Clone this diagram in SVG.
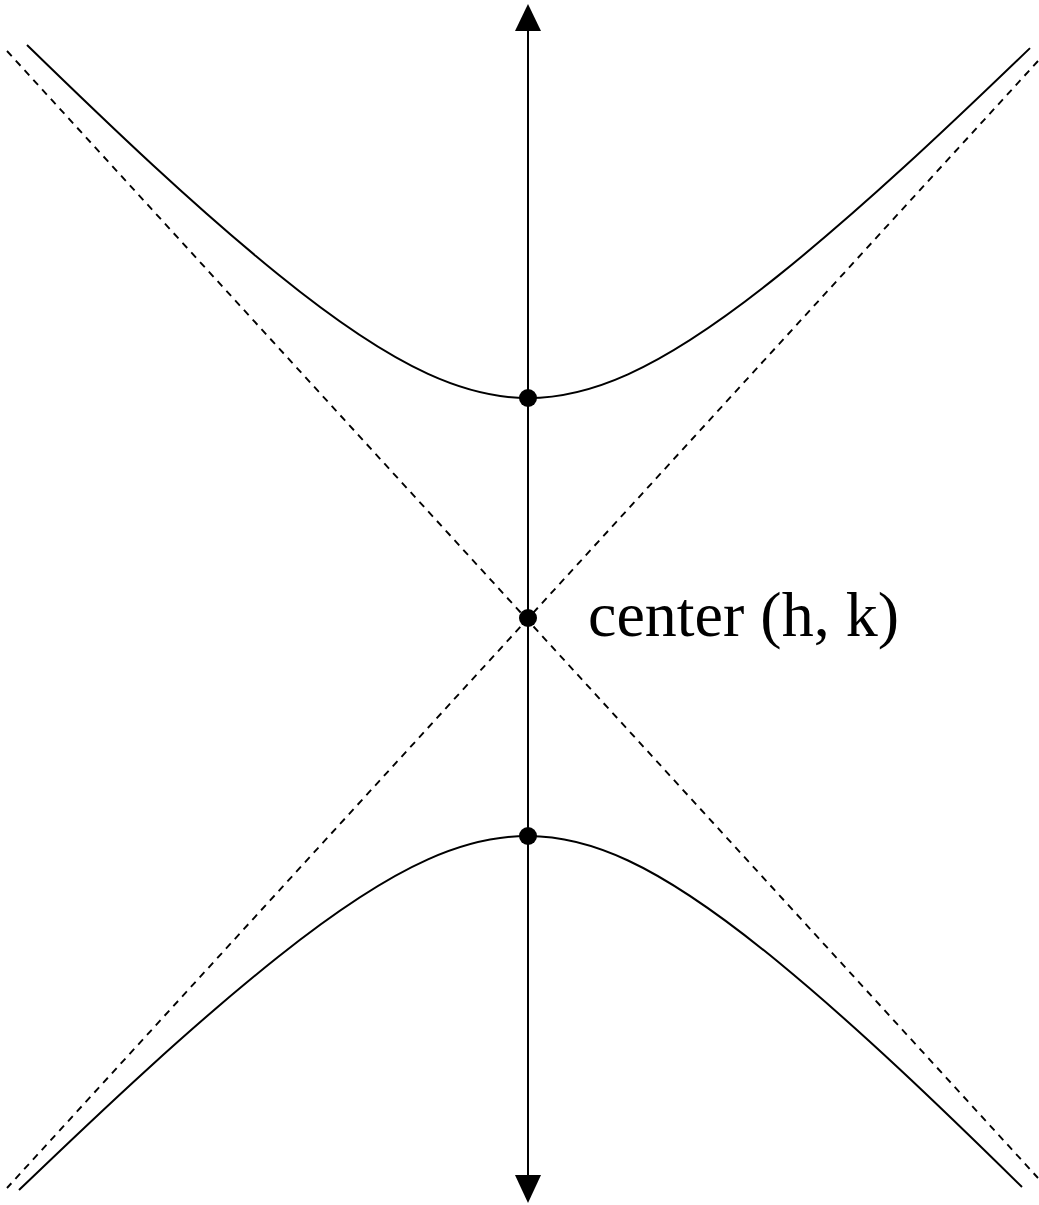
<svg xmlns="http://www.w3.org/2000/svg" width="1039" height="1205" viewBox="0 0 1039 1205">
<style>
.curve{fill:none;stroke:#000;stroke-width:2}
.asym{fill:none;stroke:#000;stroke-width:1.9;stroke-dasharray:7 6}
.axis{fill:none;stroke:#000;stroke-width:2}
.dot{fill:#000}
.lbl{font-family:"Liberation Serif","Times New Roman",serif;font-size:64px;fill:#000}
</style>
<rect width="1039" height="1205" fill="#fff"/>
<g id="connectors">
<path id="asymptote1" class="asym" d="M7,51 L1038,1178"/>
<path id="asymptote2" class="asym" d="M1038,61 L7,1188"/>
<path id="upper-branch" class="curve" d="M27,45 C110.7,126.5 194.3,206.4 278,274.3 C328,314.9 378,351.05 428,373.9 C461.3,389.1 494.7,398 528,398 C561.3,398 594.7,389.3 628,374.3 C678,351.75 728,316 778,275.9 C862,208.5 946,129.1 1030,48.1"/>
<path id="lower-branch" class="curve" d="M19,1190 C105.3,1107 191.7,1025.7 278,957 C328,917.2 378,881.7 428,859.4 C461.3,844.5 494.7,836 528,836 C561.3,836 594.7,845 628,860.5 C678,883.8 728,920.7 778,961.8 C859.3,1028.7 940.7,1107 1022,1187"/>
<line id="axis" class="axis" x1="528" y1="28" x2="528" y2="1178"/>
<polygon class="dot" points="528,4 515,31 541,31"/>
<polygon class="dot" points="528,1203 515,1175 541,1175"/>
</g>
<g id="vertex-top"><circle class="dot" cx="528" cy="398" r="9"/></g>
<g id="center"><circle class="dot" cx="528" cy="618" r="9"/><text class="lbl" x="588" y="636">center (h, k)</text></g>
<g id="vertex-bottom"><circle class="dot" cx="528" cy="836" r="9"/></g>
</svg>
